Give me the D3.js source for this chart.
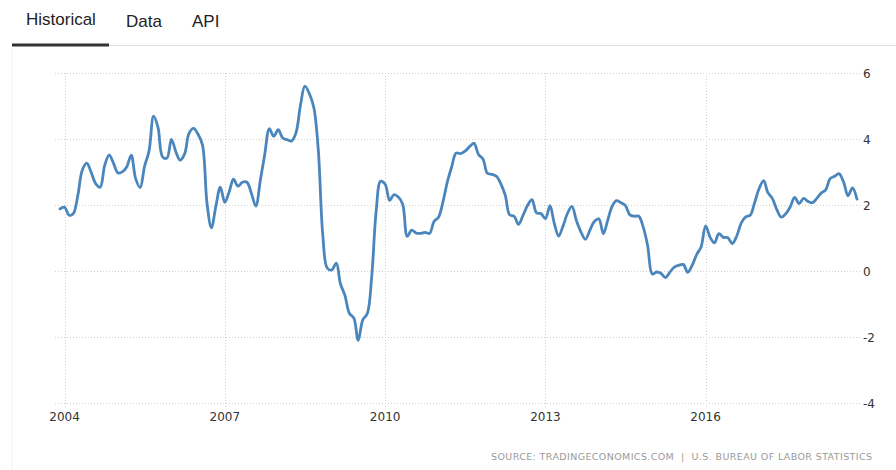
<!DOCTYPE html>
<html><head><meta charset="utf-8">
<script src="https://cdn.jsdelivr.net/npm/d3@7"></script>
<style>body{margin:0;background:#fff;}svg{display:block;}</style>
</head><body>
<svg id="c" width="896" height="470"></svg>
<script>
const startMonth = "2003-12";
const values = [
 1.88,
 1.93,1.69,1.74,2.29,3.05,3.27,2.99,2.65,2.54,3.19,3.52,3.26,
 2.97,3.01,3.15,3.51,2.80,2.53,3.17,3.64,4.69,4.35,3.46,3.42,
 3.99,3.60,3.36,3.55,4.17,4.32,4.15,3.82,2.06,1.31,1.97,2.54,
 2.08,2.42,2.78,2.57,2.69,2.69,2.36,1.97,2.76,3.54,4.31,4.08,
 4.28,4.03,3.98,3.94,4.18,5.02,5.60,5.37,4.94,3.66,1.07,0.09,
 0.03,0.24,-0.38,-0.74,-1.28,-1.43,-2.10,-1.48,-1.29,-0.18,1.84,2.72,
 2.63,2.14,2.31,2.24,2.02,1.05,1.24,1.15,1.14,1.17,1.14,1.50,
 1.63,2.11,2.68,3.16,3.57,3.56,3.63,3.77,3.87,3.53,3.39,2.96,
 2.93,2.87,2.65,2.30,1.70,1.66,1.41,1.69,1.99,2.16,1.76,1.74,
 1.59,1.98,1.47,1.06,1.36,1.75,1.96,1.52,1.18,0.96,1.24,1.50,
 1.58,1.13,1.51,1.95,2.13,2.07,1.99,1.70,1.66,1.66,1.32,0.76,
 -0.09,-0.03,-0.07,-0.20,-0.04,0.12,0.17,0.20,-0.04,0.17,0.50,0.73,
 1.37,1.02,0.85,1.13,1.02,1.01,0.83,1.06,1.46,1.64,1.69,2.07,
 2.50,2.74,2.38,2.20,1.87,1.63,1.73,1.94,2.23,2.04,2.20,2.11,
 2.07,2.21,2.36,2.46,2.80,2.87,2.95,2.70,2.28,2.52,2.18
];
const xTickYears = [2004, 2007, 2010, 2013, 2016];
const yTicks = [-4, -2, 0, 2, 4, 6];
const tabs = ["Historical", "Data", "API"];
const sourceText = "SOURCE: TRADINGECONOMICS.COM  |  U.S. BUREAU OF LABOR STATISTICS";

const parse = d3.timeParse("%Y-%m");
const t0 = parse(startMonth);
const data = values.map((v, i) => ({date: d3.timeMonth.offset(t0, i), value: v}));

const svg = d3.select("#c");

// tabs header
const tabX = [26, 126, 192];
const tabY = [25, 27, 27];
svg.selectAll("text.tab").data(tabs).enter().append("text")
  .attr("x", (d, i) => tabX[i]).attr("y", (d, i) => tabY[i])
  .attr("font-family", "Liberation Sans, Arial, sans-serif")
  .attr("font-size", 17).attr("fill", "#222").text(d => d);
svg.append("rect").attr("x", 12).attr("y", 45).attr("width", 884).attr("height", 1).attr("fill", "#ddd");
svg.append("rect").attr("x", 12).attr("y", 43.5).attr("width", 97).attr("height", 3).attr("fill", "#333");
svg.append("rect").attr("x", 11.5).attr("y", 47).attr("width", 1).attr("height", 423).attr("fill", "#f2f2f2");

const x = d3.scaleTime()
  .domain([data[0].date, data[data.length - 1].date])
  .range([60, 857]);
const y = d3.scaleLinear().domain([-4, 6]).range([403, 73]);

// horizontal grid
svg.append("g").selectAll("line").data(yTicks).enter().append("line")
  .attr("x1", 55).attr("x2", 860)
  .attr("y1", d => y(d) + 0.5).attr("y2", d => y(d) + 0.5)
  .attr("stroke", "#d0d0d0").attr("stroke-width", 1).attr("stroke-dasharray", "1,2");

// vertical grid
const xTickDates = xTickYears.map(yr => new Date(yr, 0, 1));
svg.append("g").selectAll("line").data(xTickDates).enter().append("line")
  .attr("x1", d => Math.round(x(d)) + 0.5).attr("x2", d => Math.round(x(d)) + 0.5)
  .attr("y1", 73).attr("y2", 408)
  .attr("stroke", "#d0d0d0").attr("stroke-width", 1).attr("stroke-dasharray", "1,2");

// x labels
svg.append("g").selectAll("text").data(xTickDates).enter().append("text")
  .attr("x", d => x(d)).attr("y", 421)
  .attr("text-anchor", "middle")
  .attr("font-family", "DejaVu Sans, Verdana, sans-serif").attr("font-size", 12)
  .attr("fill", "#333").text(d => d.getFullYear());

// y labels
svg.append("g").selectAll("text").data(yTicks).enter().append("text")
  .attr("x", 863).attr("y", d => y(d) + 4.5)
  .attr("font-family", "DejaVu Sans, Verdana, sans-serif").attr("font-size", 12)
  .attr("fill", "#333").text(d => d);

// line
const line = d3.line().x(d => x(d.date)).y(d => y(d.value)).curve(d3.curveCatmullRom.alpha(0.5));
svg.append("path").datum(data).attr("d", line)
  .attr("fill", "none").attr("stroke", "#4a86bc").attr("stroke-width", 2.8)
  .attr("stroke-linejoin", "round").attr("stroke-linecap", "round");

// source
svg.append("text").attr("x", 491).attr("y", 460)
  .attr("font-family", "DejaVu Sans, Verdana, sans-serif").attr("font-size", 9.5)
  .attr("fill", "#9a9a9a").attr("textLength", 381).attr("lengthAdjust", "spacing")
  .attr("xml:space", "preserve")
  .text(sourceText);
</script>
</body></html>
